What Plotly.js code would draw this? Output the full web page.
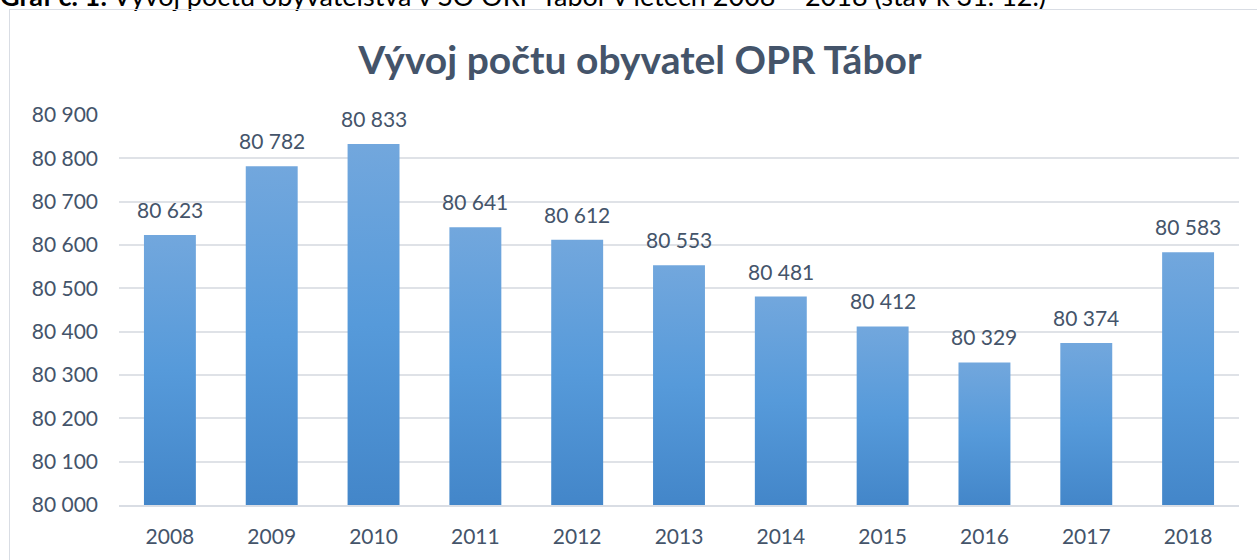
<!DOCTYPE html>
<html>
<head>
<meta charset="utf-8">
<script src="https://cdn.plot.ly/plotly-3.0.1.min.js"></script>
<style>
  html, body { margin:0; padding:0; width:1257px; height:560px; overflow:hidden; background:#fff; }
  #caption { position:absolute; left:0; top:-21px; font-family:Lato, "Liberation Sans", sans-serif; font-size:27px; color:#000; white-space:nowrap; }
  #frame { position:absolute; left:9px; top:9px; width:1270px; height:570px; border:1.5px solid #d9dde4; box-sizing:border-box; }
  #chart { position:absolute; left:0; top:0; width:1257px; height:560px; }
</style>
</head>
<body>
<div id="caption"><b>Graf č. 1:</b> Vývoj počtu obyvatelstva v SO ORP Tábor v letech 2008 – 2018 (stav k 31. 12.)</div>
<div id="frame"></div>
<div id="chart"></div>
<script>
const years = ["2008","2009","2010","2011","2012","2013","2014","2015","2016","2017","2018"];
const population = [80623, 80782, 80833, 80641, 80612, 80553, 80481, 80412, 80329, 80374, 80583];
const yTicks = [80000, 80100, 80200, 80300, 80400, 80500, 80600, 80700, 80800, 80900];
const axisMin = 80000;
const axisMax = 80900;
const chartTitle = "Vývoj počtu obyvatel OPR Tábor";

const textColor = "#44546a";
const fontFam = "Lato, 'Open Sans', sans-serif";

const fmt = v => String(v).replace(/\B(?=(\d{3})+(?!\d))/g, " ");

const trace = {
  type: "bar",
  x: years,
  y: population.map(v => v - axisMin),
  base: axisMin,
  marker: { color: "#5b9bd5", line: { width: 0 } },
  hoverinfo: "skip"
};

const labels = years.map((yr, i) => ({
  x: i, y: population[i], xref: "x", yref: "y",
  text: fmt(population[i]),
  showarrow: false, yanchor: "bottom", xanchor: "center",
  yshift: 11,
  font: { family: fontFam, size: 21, color: textColor }
}));

const layout = {
  width: 1257, height: 560,
  paper_bgcolor: "rgba(0,0,0,0)",
  plot_bgcolor: "rgba(0,0,0,0)",
  separators: ", ",
  margin: { l: 119, r: 18, t: 115, b: 55 },
  bargap: 0.49,
  showlegend: false,
  annotations: labels,
  title: {
    text: "<b>" + chartTitle + "</b>",
    font: { family: fontFam, size: 39, color: textColor },
    x: 0.509, xanchor: "center",
    y: 1 - 60/560, yanchor: "middle", yref: "container"
  },
  xaxis: {
    type: "category",
    range: [-0.5, years.length - 0.5],
    showgrid: false,
    showline: true, linecolor: "#d9dde4", linewidth: 2,
    ticks: "",
    ticklabelstandoff: 12,
    tickfont: { family: fontFam, size: 21, color: textColor }
  },
  yaxis: {
    range: [axisMin, axisMax],
    tickvals: yTicks,
    tickformat: ",d",
    showgrid: true, gridcolor: "#dfe2e7", gridwidth: 2,
    zeroline: false,
    showline: false,
    ticks: "",
    ticklabelstandoff: 20,
    tickfont: { family: fontFam, size: 21, color: textColor }
  }
};

Plotly.newPlot("chart", [trace], layout, { staticPlot: true, displayModeBar: false }).then(gd => {
  const svg = gd.querySelector("svg.main-svg");
  const ns = "http://www.w3.org/2000/svg";
  let defs = svg.querySelector("defs");
  const grad = document.createElementNS(ns, "linearGradient");
  grad.setAttribute("id", "barGrad");
  grad.setAttribute("x1", "0"); grad.setAttribute("y1", "0");
  grad.setAttribute("x2", "0"); grad.setAttribute("y2", "1");
  [["0", "#72a7dd"], ["0.5", "#569ada"], ["1", "#4386c9"]].forEach(([o, c]) => {
    const s = document.createElementNS(ns, "stop");
    s.setAttribute("offset", o); s.setAttribute("stop-color", c);
    grad.appendChild(s);
  });
  defs.appendChild(grad);
  gd.querySelectorAll(".bars .point path").forEach(p => { p.style.fill = "url(#barGrad)"; });
});
</script>
</body>
</html>
